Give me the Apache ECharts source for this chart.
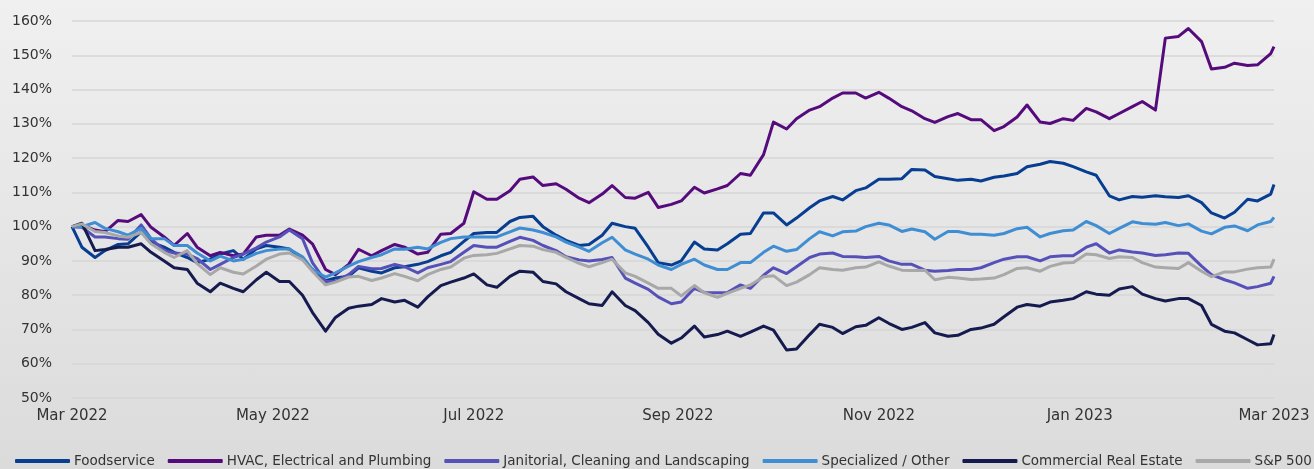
<!DOCTYPE html>
<html>
<head>
<meta charset="utf-8">
<title>Sector performance vs S&amp;P 500</title>
<script src="https://cdn.jsdelivr.net/npm/echarts@6/dist/echarts.min.js"></script>
<style>
  html, body { margin: 0; padding: 0; }
  body { background: linear-gradient(#f0f0f0, #dbdbdb); }
  #chart { width: 1314px; height: 469px; }
</style>
</head>
<body>
<div id="chart"></div>
<script>
// trading dates (Tue / Fri sampling), indexed returns in %
const dates = [
  "2022-03-01","2022-03-04","2022-03-08","2022-03-11","2022-03-15","2022-03-18","2022-03-22","2022-03-25","2022-03-29","2022-04-01",
  "2022-04-05","2022-04-08","2022-04-12","2022-04-15","2022-04-19","2022-04-22","2022-04-26","2022-04-29","2022-05-03","2022-05-06",
  "2022-05-10","2022-05-13","2022-05-17","2022-05-20","2022-05-24","2022-05-27","2022-05-31","2022-06-03","2022-06-07","2022-06-10",
  "2022-06-14","2022-06-17","2022-06-21","2022-06-24","2022-06-28","2022-07-01","2022-07-05","2022-07-08","2022-07-12","2022-07-15",
  "2022-07-19","2022-07-22","2022-07-26","2022-07-29","2022-08-02","2022-08-05","2022-08-09","2022-08-12","2022-08-16","2022-08-19",
  "2022-08-23","2022-08-26","2022-08-30","2022-09-02","2022-09-06","2022-09-09","2022-09-13","2022-09-16","2022-09-20","2022-09-23",
  "2022-09-27","2022-09-30","2022-10-04","2022-10-07","2022-10-11","2022-10-14","2022-10-18","2022-10-21","2022-10-25","2022-10-28",
  "2022-11-01","2022-11-04","2022-11-08","2022-11-11","2022-11-15","2022-11-18","2022-11-22","2022-11-25","2022-11-29","2022-12-02",
  "2022-12-06","2022-12-09","2022-12-13","2022-12-16","2022-12-20","2022-12-23","2022-12-27","2022-12-30","2023-01-03","2023-01-06",
  "2023-01-10","2023-01-13","2023-01-17","2023-01-20","2023-01-24","2023-01-27","2023-01-31","2023-02-03","2023-02-07","2023-02-10",
  "2023-02-14","2023-02-17","2023-02-21","2023-02-24","2023-02-28","2023-03-01"
];

const foodservice = [
  100, 94, 91, 93, 94.8, 95, 98.5, 95.5, 94, 92.5,
  91, 89.5, 90.5, 92, 93, 90.5, 93.5, 94.5, 94, 93.5,
  90.5, 87.5, 84.2, 85, 85.5, 88, 87, 86.5, 88, 88.3,
  89, 89.8, 91.5, 92.5, 95.7, 98, 98.3, 98.3, 101.5, 102.7,
  103, 100, 97.5, 96, 94.5, 94.8, 97.5, 101, 100, 99.5,
  94, 89.5, 88.8, 90, 95.5, 93.5, 93.2, 95, 97.8, 98,
  104, 104, 100.5, 102.5, 105.5, 107.5, 108.8, 107.8, 110.5, 111.3,
  113.8, 113.8, 114, 116.7, 116.5, 114.6, 114, 113.5, 113.8, 113.3,
  114.4, 114.8, 115.5, 117.5, 118.2, 119, 118.5, 117.5, 116, 115,
  109, 107.8, 108.8, 108.6, 109, 108.7, 108.5, 109, 107, 104,
  102.5, 104.2, 108, 107.5, 109.5, 112.3
];

const hvac = [
  100, 100.5, 99, 98.5, 101.8, 101.5, 103.5, 99.8, 97, 94.5,
  98, 94, 91.5, 92.5, 91.5, 92, 97, 97.5, 97.5, 99.3,
  97.5, 95, 87.5, 86, 89, 93.4, 91.5, 93, 94.8, 94,
  92, 92.5, 97.8, 98, 101, 110.2, 108, 108, 110.5, 113.8,
  114.5, 112, 112.5, 110.9, 108.3, 107, 109.5, 112, 108.5, 108.3,
  110, 105.6, 106.5, 107.5, 111.5, 109.8, 111, 112, 115.5, 115,
  121, 130.5, 128.5, 131.5, 134, 135, 137.5, 139, 139, 137.5,
  139.2, 137.5, 135, 133.8, 131.5, 130.4, 132.1, 133, 131.2, 131.2,
  128, 129.2, 132, 135.5, 130.5, 130.1, 131.5, 131, 134.5, 133.5,
  131.5, 133, 135, 136.5, 134, 155, 155.5, 157.8, 154, 146,
  146.5, 147.7, 147, 147.2, 150.5, 152.5
];

const janitorial = [
  100, 99.8, 97, 97, 96.5, 96.3, 100.5, 96.5, 93, 92.3,
  92, 90.7, 87.5, 89, 91, 92, 93.8, 95.5, 97, 99,
  96.5, 89.5, 84, 84, 86, 88.4, 87.7, 87.8, 89, 88.3,
  86.5, 88, 89, 89.8, 92.5, 94.5, 94, 94, 95.7, 96.9,
  96, 94.5, 93, 91.2, 90.3, 90, 90.4, 91, 85, 83.5,
  81.7, 79.5, 77.5, 78, 82, 80.8, 80.7, 80.8, 83, 82,
  85.8, 88, 86.3, 88.3, 91, 92, 92.3, 91.3, 91.2, 91,
  91.3, 90, 89, 89, 87.3, 87, 87.2, 87.5, 87.5, 88,
  89.5, 90.5, 91.2, 91.2, 90, 91.2, 91.5, 91.5, 94, 95,
  92.3, 93.2, 92.6, 92.3, 91.6, 91.8, 92.3, 92.2, 88.5, 86,
  84.5, 83.6, 82, 82.5, 83.5, 85.5
];

const specialized = [
  100, 100, 101.2, 99.5, 98.5, 97.5, 99.5, 96.5, 96.5, 94.5,
  94.5, 92.3, 90, 91.4, 90, 90.5, 92.2, 93, 93.5, 93.5,
  91.2, 87.5, 85.3, 86.5, 88.5, 89.8, 91, 91.8, 93.5, 93.4,
  94, 93.5, 95.4, 96.5, 97, 97, 97, 97, 98.5, 99.6,
  99, 98.3, 97, 95.5, 94, 92.8, 95.3, 96.9, 93.2, 92,
  90.5, 88.8, 87.5, 89, 90.5, 88.8, 87.5, 87.5, 89.5, 89.5,
  92.5, 94.3, 92.8, 93.3, 96.5, 98.5, 97.3, 98.5, 98.7, 100,
  101, 100.5, 98.6, 99.3, 98.5, 96.3, 98.6, 98.6, 97.8, 97.8,
  97.5, 98, 99.4, 99.8, 97, 98, 98.8, 99, 101.5, 100.3,
  98, 99.5, 101.4, 100.9, 100.7, 101.2, 100.3, 100.8, 98.7, 97.9,
  99.8, 100.2, 98.8, 100.5, 101.5, 102.7
];

const commercialRE = [
  100, 101, 93, 93.3, 94, 94, 95, 92.5, 90, 88,
  87.5, 83.5, 81, 83.5, 82, 81, 84.5, 86.7, 84, 84,
  80, 75, 69.5, 73.5, 76.2, 76.8, 77.3, 79, 78, 78.5,
  76.5, 79.5, 82.8, 83.8, 85, 86.2, 83, 82.3, 85.5, 87,
  86.7, 84, 83.3, 81, 79, 77.5, 77, 81, 77, 75.5,
  72, 68.6, 66, 67.5, 71, 67.8, 68.5, 69.5, 68, 69.2,
  71, 69.8, 64, 64.3, 68.5, 71.5, 70.6, 68.8, 70.8, 71.2,
  73.4, 71.8, 70, 70.6, 72, 69, 68, 68.3, 70, 70.4,
  71.5, 73.7, 76.5, 77.3, 76.8, 78, 78.5, 79, 81, 80.3,
  80, 81.8, 82.5, 80.3, 79, 78.3, 79, 79, 77, 71.5,
  69.5, 69, 67, 65.5, 65.8, 68.5
];

const sp500 = [
  100, 100.8, 98.6, 98.3, 97.3, 96.9, 98.3, 95, 92.5, 91,
  93, 89.2, 86, 88, 86.7, 86.2, 88.5, 90.5, 92, 92.3,
  90.3, 87, 83, 83.8, 85.3, 85.5, 84.3, 85, 86.3, 85.5,
  84.2, 86, 87.5, 88.2, 90.8, 91.6, 91.8, 92.2, 93.5, 94.5,
  94.3, 93.3, 92.5, 91, 89.3, 88.3, 89.5, 90.5, 86.5, 85.5,
  83.5, 82, 82, 79.8, 82.8, 80.7, 79.4, 80.5, 82, 83,
  85.4, 85.7, 82.8, 83.8, 86, 88, 87.5, 87.3, 88, 88.2,
  89.7, 88.5, 87.3, 87.2, 87.3, 84.5, 85.2, 85, 84.6, 84.7,
  85, 86, 87.8, 88, 87, 88.4, 89.4, 89.5, 92, 91.8,
  90.7, 91.2, 91, 89.5, 88.2, 88, 87.8, 89.5, 87, 85.4,
  86.8, 86.8, 87.6, 88, 88.2, 90.5
];

const tickDates = ["2022-03-01", "2022-05-01", "2022-07-01", "2022-09-01", "2022-11-01", "2023-01-01", "2023-03-01"];
const tickLabels = ["Mar 2022", "May 2022", "Jul 2022", "Sep 2022", "Nov 2022", "Jan 2023", "Mar 2023"];

const seriesDefs = [
  { name: "Foodservice", data: foodservice, color: "#073e91" },
  { name: "HVAC, Electrical and Plumbing", data: hvac, color: "#560b7c" },
  { name: "Janitorial, Cleaning and Landscaping", data: janitorial, color: "#5651b8" },
  { name: "Specialized / Other", data: specialized, color: "#3f8ed3" },
  { name: "Commercial Real Estate", data: commercialRE, color: "#151b4e" },
  { name: "S&P 500", data: sp500, color: "#a8a8a8" }
];

const toTime = (d) => +new Date(d + "T00:00:00");
const times = dates.map(toTime);
const tickTimes = tickDates.map(toTime);
const FONT = "'DejaVu Sans', sans-serif";

const chart = echarts.init(document.getElementById("chart"), null, { renderer: "canvas" });

chart.setOption({
  animation: false,
  backgroundColor: "transparent",
  textStyle: { fontFamily: FONT },
  grid: { left: 72, right: 40, top: 21, bottom: 71 },
  legend: {
    left: 15,
    top: 454,
    width: 1600,
    padding: 0,
    icon: "roundRect",
    itemWidth: 55,
    itemHeight: 4,
    itemGap: 13,
    textStyle: { color: "#333", fontSize: 13.5, fontFamily: FONT, padding: [0, 0, 0, -1] },
    data: seriesDefs.map((s) => s.name)
  },
  xAxis: {
    type: "value",
    min: tickTimes[0],
    max: tickTimes[tickTimes.length - 1],
    axisLine: { show: false },
    axisTick: { show: false },
    splitLine: { show: false },
    axisLabel: {
      customValues: tickTimes,
      color: "#333",
      fontSize: 15,
      margin: 11,
      hideOverlap: false,
      formatter: (val) => {
        const i = tickTimes.indexOf(val);
        return i >= 0 ? tickLabels[i] : "";
      }
    }
  },
  yAxis: {
    type: "value",
    min: 50,
    max: 160,
    interval: 10,
    axisLine: { show: false },
    axisTick: { show: false },
    axisLabel: { color: "#333", fontSize: 14, margin: 20, formatter: "{value}%" },
    splitLine: { lineStyle: { color: "#d6d6d6", width: 1.5 } }
  },
  series: seriesDefs.map((s) => ({
    name: s.name,
    type: "line",
    data: times.map((t, i) => [t, s.data[i]]),
    showSymbol: false,
    symbol: "none",
    lineStyle: { color: s.color, width: 3, join: "round" },
    itemStyle: { color: s.color }
  }))
});

window.addEventListener("resize", () => chart.resize());
</script>
</body>
</html>
